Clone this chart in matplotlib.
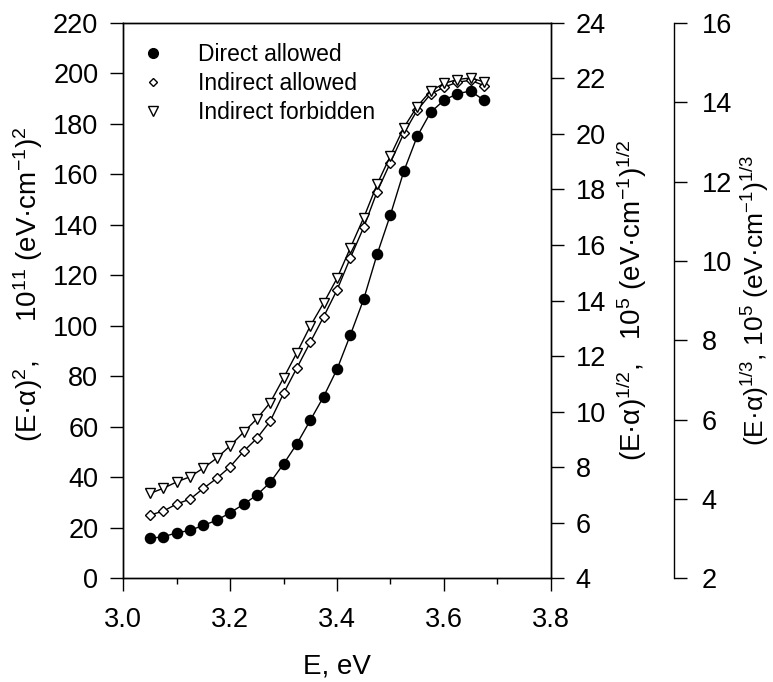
import numpy as np
import matplotlib.pyplot as plt
from matplotlib.lines import Line2D
from matplotlib.ticker import MultipleLocator

plt.rcParams['font.family'] = ['Liberation Sans', 'DejaVu Sans']
plt.rcParams['mathtext.fontset'] = 'custom'
plt.rcParams['mathtext.rm'] = 'Liberation Sans'
plt.rcParams['mathtext.it'] = 'Liberation Sans:italic'

# photon energy, eV
energy = [3.05, 3.075, 3.10, 3.125, 3.15, 3.175, 3.20, 3.225, 3.25, 3.275,
          3.30, 3.325, 3.35, 3.375, 3.40, 3.425, 3.45, 3.475, 3.50, 3.525,
          3.55, 3.575, 3.60, 3.625, 3.65, 3.675]
# (E*alpha)^2, left axis
direct_allowed = [15.8, 16.5, 18.0, 19.0, 21.0, 23.0, 26.0, 29.3, 33.0, 38.0,
                  45.3, 53.3, 62.6, 72.0, 82.8, 96.4, 110.6, 128.3, 144.0, 161.2,
                  175.0, 184.5, 189.3, 191.9, 193.0, 189.3]
# (E*alpha)^1/2, middle axis
indirect_allowed = [6.28, 6.42, 6.68, 6.85, 7.24, 7.60, 8.02, 8.57, 9.04, 9.66,
                    10.66, 11.58, 12.50, 13.42, 14.38, 15.54, 16.64, 17.92, 18.97, 20.02,
                    20.85, 21.43, 21.68, 21.86, 21.93, 21.74]
# (E*alpha)^1/3, outer axis
indirect_forbidden = [4.14, 4.27, 4.43, 4.56, 4.78, 5.03, 5.34, 5.68, 6.02, 6.43,
                      7.05, 7.69, 8.36, 8.94, 9.56, 10.33, 11.09, 11.93, 12.65, 13.36,
                      13.89, 14.28, 14.47, 14.57, 14.61, 14.51]

fig = plt.figure(figsize=(7.73, 6.82), dpi=100)
ax = fig.add_axes([0.1595, 0.152, 0.553, 0.8146])
ax2 = ax.twinx()
ax3 = ax.twinx()

fs = 19.5
lfs = 20

ax.plot(energy, direct_allowed, '-', color='black', lw=1,
        marker='o', ms=7.3, mfc='black', mec='black')
ax2.plot(energy, indirect_allowed, '-', color='black', lw=1,
         marker='D', ms=5.2, mfc='white', mec='black', mew=1)
ax3.plot(energy, indirect_forbidden, '-', color='black', lw=1,
         marker='v', ms=7.5, mfc='white', mec='black', mew=1)

ax.set_xlim(3.0, 3.8)
ax.set_ylim(0, 220)
ax2.set_ylim(4, 24)
ax3.set_ylim(2, 16)
ax.xaxis.set_major_locator(MultipleLocator(0.2))
ax.xaxis.set_minor_locator(MultipleLocator(0.1))
ax.yaxis.set_major_locator(MultipleLocator(20))
ax2.yaxis.set_major_locator(MultipleLocator(2))
ax3.yaxis.set_major_locator(MultipleLocator(2))
ax.set_xticks([3.0, 3.2, 3.4, 3.6, 3.8])
ax.set_xticklabels(['3.0', '3.2', '3.4', '3.6', '3.8'])

ax.tick_params(axis='y', which='major', direction='out', length=9.5, width=1,
               labelsize=fs, pad=8.5)
ax.tick_params(axis='x', which='major', direction='out', length=9.5, width=1,
               labelsize=fs, pad=11)
ax.tick_params(axis='x', which='minor', direction='out', length=4, width=1)
ax2.tick_params(axis='y', which='major', direction='out', length=9.5, width=1,
                labelsize=fs, pad=8.5)
ax3.tick_params(axis='y', which='major', direction='out', length=9.5, width=1,
                labelsize=fs, pad=10.5)

ax3.spines['right'].set_position(('axes', 1.288))
for s in ['top', 'left', 'bottom']:
    ax3.spines[s].set_visible(False)

for a in (ax, ax2, ax3):
    for s in a.spines.values():
        s.set_linewidth(1)

ax.set_xlabel('E, eV', fontsize=lfs, labelpad=15)
ax.set_ylabel('(E·α)$^2$,     10$^{11}$ (eV·cm$^{-1}$)$^2$', fontsize=lfs)
ax.yaxis.set_label_coords(-0.183, 0.53)
ax2.set_ylabel('(E·α)$^{1/2}$,   10$^5$ (eV·cm$^{-1}$)$^{1/2}$', fontsize=lfs, labelpad=6)
ax3.set_ylabel('(E·α)$^{1/3}$, 10$^5$ (eV·cm$^{-1}$)$^{1/3}$', fontsize=19, labelpad=5)

handles = [
    Line2D([], [], ls='none', marker='o', ms=7, mfc='black', mec='black'),
    Line2D([], [], ls='none', marker='D', ms=4.5, mfc='white', mec='black'),
    Line2D([], [], ls='none', marker='v', ms=6.5, mfc='white', mec='black'),
]
labels = ['Direct allowed', 'Indirect allowed', 'Indirect forbidden']
ax.legend(handles, labels, loc='upper left', bbox_to_anchor=(0.0426, 0.963),
          frameon=False, fontsize=16.5, handlelength=1.0, handletextpad=1.46,
          borderpad=0, borderaxespad=0, labelspacing=0.25)

fig.savefig('out.png', dpi=100)
